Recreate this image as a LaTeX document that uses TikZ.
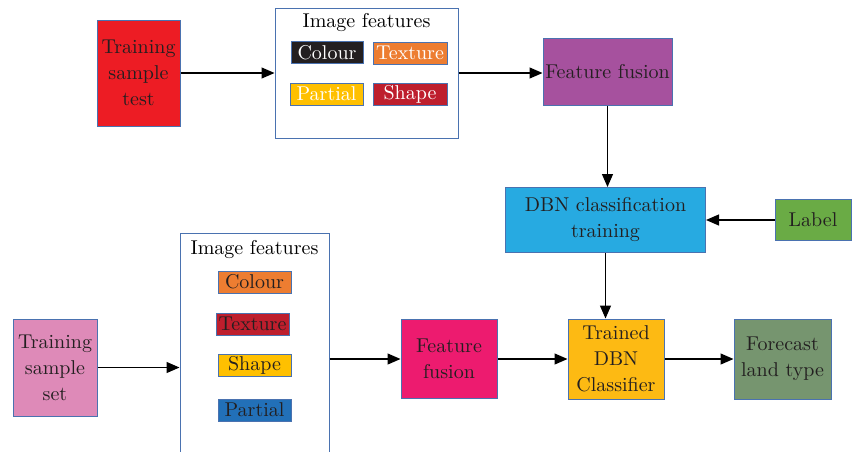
\documentclass[tikz,border=0pt]{standalone}
\usepackage{tikz}
\usetikzlibrary{positioning, arrows.meta}

\definecolor{edgeblue}{HTML}{4A72B0}
\definecolor{inkdark}{HTML}{231F20}
\definecolor{boxred}{HTML}{ED1C24}
\definecolor{boxpurple}{HTML}{A6519E}
\definecolor{boxcyan}{HTML}{27AAE1}
\definecolor{boxgreen}{HTML}{6AAB45}
\definecolor{boxpink}{HTML}{DE8AB8}
\definecolor{boxmagenta}{HTML}{ED1B6F}
\definecolor{boxamber}{HTML}{FDBA13}
\definecolor{boxsage}{HTML}{76956F}
\definecolor{tagorange}{HTML}{ED7D31}
\definecolor{tagblack}{HTML}{231F20}
\definecolor{tagyellow}{HTML}{FFC000}
\definecolor{tagred}{HTML}{BE1E2D}
\definecolor{tagblue}{HTML}{2270B8}

\begin{document}
\begin{tikzpicture}[x=0.5pt, y=-0.5pt, >={Triangle[length=6.5pt, width=5.5pt]},
          line width=0.6pt,
          font=\fontsize{10}{13}\selectfont,
          box/.style={draw=edgeblue, line width=0.5pt, rectangle, align=center, text=inkdark, inner sep=1pt},
          panel/.style={draw=edgeblue, line width=0.5pt, rectangle, fill=white},
          tag/.style={draw=edgeblue, line width=0.5pt, rectangle, inner sep=0pt, minimum height=11pt}
        ]
        \clip (0,0) rectangle (852,451);
        \fill[white] (0,0) rectangle (852,451);

        % upper row
        \node[box, fill=boxred, minimum width=41.5pt, minimum height=53pt] (trainTest) at (138.5,73) {Training\\sample\\test};
        \node[panel, minimum width=91.5pt, minimum height=65pt] (featTop) at (366.5,73) {};
        \node (titleTop) at (366.5,23) {Image features};
        \node[tag, fill=tagblack, text=white, minimum width=36pt] (colourA) at (327,52.5) {Colour};
        \node[tag, fill=tagorange, text=white, minimum width=37pt] (textureA) at (410,53) {Texture};
        \node[tag, fill=tagyellow, text=white, minimum width=36.5pt] (partialA) at (326.5,94) {Partial};
        \node[tag, fill=tagred, text=white, minimum width=37pt] (shapeA) at (410,94.5) {Shape};
        \node[box, fill=boxpurple, minimum width=64.5pt, minimum height=33.5pt] (fusionTop) at (607.5,71.5) {Feature fusion};

        % middle
        \node[box, fill=boxcyan, minimum width=100pt, minimum height=32.5pt] (dbnTrain) at (605.5,220) {DBN classification\\training};
        \node[box, fill=boxgreen, minimum width=38pt, minimum height=20.5pt] (label) at (813,220) {Label};

        % lower row
        \node[box, fill=boxpink, minimum width=42pt, minimum height=48.5pt] (trainSet) at (55,367.5) {Training\\sample\\set};
        \node[panel, minimum width=74.5pt, minimum height=118.5pt] (featBot) at (254.5,351.5) {};
        \node (titleBot) at (254.5,250) {Image features};
        \node[tag, fill=tagorange, text=inkdark, minimum width=36.5pt] (colourB) at (254.5,282) {Colour};
        \node[tag, fill=tagred, text=inkdark, minimum width=36.5pt] (textureB) at (252.5,324) {Texture};
        \node[tag, fill=tagyellow, text=inkdark, minimum width=36.5pt] (shapeB) at (254.5,365) {Shape};
        \node[tag, fill=tagblue, text=inkdark, minimum width=36.5pt] (partialB) at (254.5,410) {Partial};
        \node[box, fill=boxmagenta, minimum width=48pt, minimum height=39.5pt] (fusionBot) at (449,359) {Feature\\fusion};
        \node[box, fill=boxamber, minimum width=48pt, minimum height=40pt] (trainedDBN) at (616,359) {Trained\\DBN\\Classifier};
        \node[box, fill=boxsage, minimum width=48.5pt, minimum height=40pt] (forecast) at (782.5,359) {Forecast\\land type};

        % connectors, upper path
        \draw[->] (trainTest.east) -- (featTop.west);
        \draw[->] (featTop.east) -- (featTop.east -| fusionTop.west);
        \draw[->] (fusionTop.south) -- (fusionTop.south |- dbnTrain.north);
        \draw[->] (label.west) -- (dbnTrain.east);
        \draw[->] (dbnTrain.south) -- (dbnTrain.south |- trainedDBN.north);

        % connectors, lower path
        \draw[->] (trainSet.east) -- (trainSet.east -| featBot.west);
        \draw[->] (fusionBot.west -| featBot.east) -- (fusionBot.west);
        \draw[->] (fusionBot.east) -- (trainedDBN.west);
        \draw[->] (trainedDBN.east) -- (forecast.west);
      \end{tikzpicture}
\end{document}
